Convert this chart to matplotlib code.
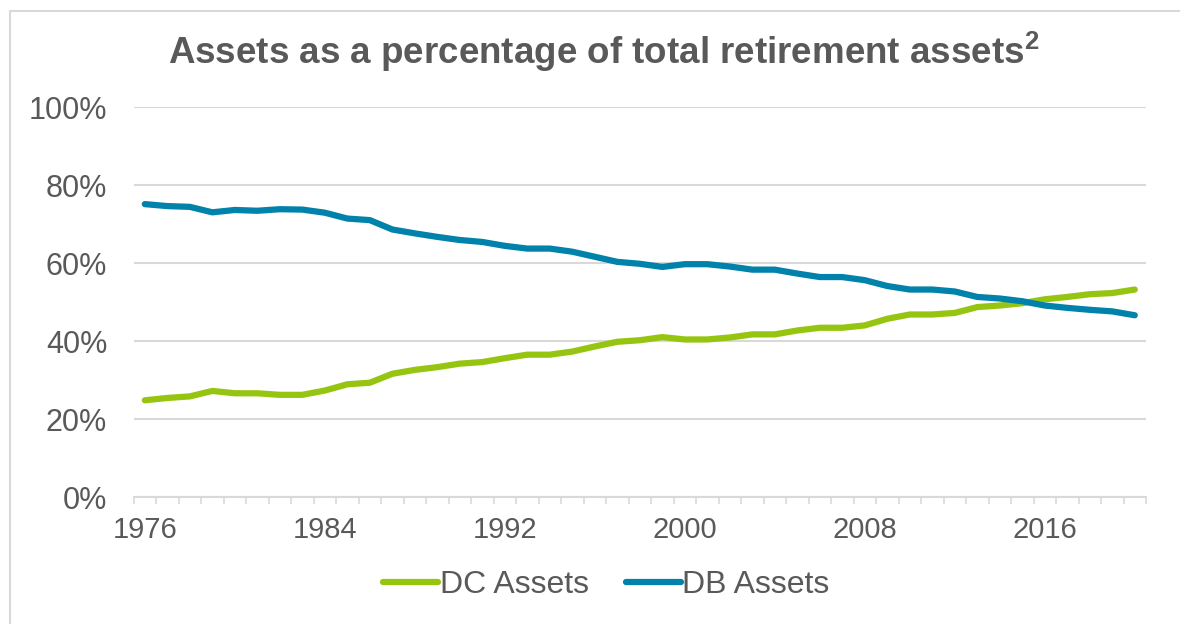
import matplotlib
matplotlib.use("Agg")
import matplotlib.pyplot as plt
from matplotlib.patches import Rectangle
from matplotlib.ticker import FixedLocator, PercentFormatter

# share of total retirement assets, one value per year
years = list(range(1976, 2021))
db_assets = [75.1, 74.6, 74.4, 73.0, 73.6, 73.4, 73.8, 73.7, 72.9, 71.4,
             71.0, 68.6, 67.6, 66.7, 65.9, 65.4, 64.4, 63.7, 63.7, 62.9,
             61.6, 60.3, 59.8, 59.0, 59.7, 59.7, 59.1, 58.3, 58.3, 57.3,
             56.4, 56.4, 55.6, 54.1, 53.2, 53.2, 52.7, 51.3, 50.9, 50.2,
             49.1, 48.5, 48.0, 47.6, 46.6]
dc_assets = [24.8, 25.4, 25.8, 27.2, 26.6, 26.6, 26.2, 26.2, 27.3, 28.9,
             29.3, 31.6, 32.6, 33.3, 34.2, 34.6, 35.6, 36.5, 36.5, 37.3,
             38.6, 39.8, 40.2, 41.0, 40.4, 40.4, 40.9, 41.7, 41.7, 42.7,
             43.4, 43.4, 44.0, 45.7, 46.8, 46.8, 47.2, 48.7, 49.1, 49.7,
             50.7, 51.3, 52.0, 52.3, 53.2]
label_years = [1976, 1984, 1992, 2000, 2008, 2016]

text_col = "#595959"
grid_col = "#d9d9d9"
plt.rcParams["font.family"] = ["Liberation Sans", "DejaVu Sans"]
plt.rcParams["mathtext.fontset"] = "custom"
plt.rcParams["mathtext.bf"] = "Liberation Sans:bold"
plt.rcParams["mathtext.rm"] = "Liberation Sans"

fig = plt.figure(figsize=(11.8, 6.24), dpi=100)
# outer frame (only top and left edges fall inside the picture)
fig.patches.append(Rectangle((10 / 1180, -0.05), 1.2, 1 - 11 / 624 + 0.05,
                             transform=fig.transFigure, fill=False,
                             edgecolor="#d9d9d9", lw=1.5))

ax = fig.add_axes([0.1132, 0.2035, 0.858, 0.625])
x = list(range(len(years)))
ax.plot(x, dc_assets, color="#96c511", lw=4.5, solid_capstyle="round", label="DC Assets")
ax.plot(x, db_assets, color="#0082aa", lw=4.5, solid_capstyle="round", label="DB Assets")

ax.set_xlim(-0.5, len(years) - 0.5)
ax.set_ylim(0, 100)
ax.set_yticks([0, 20, 40, 60, 80, 100])
ax.yaxis.set_major_formatter(PercentFormatter(decimals=0))
ax.grid(axis="y", color=grid_col, lw=1.5)
ax.set_axisbelow(True)

ax.set_xticks([years.index(y) for y in label_years])
ax.set_xticklabels([str(y) for y in label_years])
ax.xaxis.set_minor_locator(FixedLocator([i - 0.5 for i in range(len(years) + 1)]))
ax.tick_params(axis="x", which="major", length=0, pad=14, labelsize=21, labelcolor=text_col)
ax.tick_params(axis="x", which="minor", length=5, width=1.2, color=grid_col, direction="out")
ax.tick_params(axis="y", length=0, pad=19, labelsize=22, labelcolor=text_col)

for s in ["top", "right", "left"]:
    ax.spines[s].set_visible(False)
ax.spines["bottom"].set_color(grid_col)
ax.spines["bottom"].set_linewidth(1.5)

fig.text(0.512, 0.897, r"Assets as a percentage of total retirement assets$^{\mathbf{2}}$",
         ha="center", va="baseline", fontsize=26.5, fontweight="bold", color=text_col)

leg = fig.legend(loc="center", bbox_to_anchor=(0.514, 0.062), ncol=2, frameon=False,
                 fontsize=23, handlelength=1.72, handletextpad=0.05, columnspacing=1.15)
for t in leg.get_texts():
    t.set_color(text_col)
for h in leg.get_lines():
    h.set_solid_capstyle("round")

fig.savefig("out.png", dpi=100)
